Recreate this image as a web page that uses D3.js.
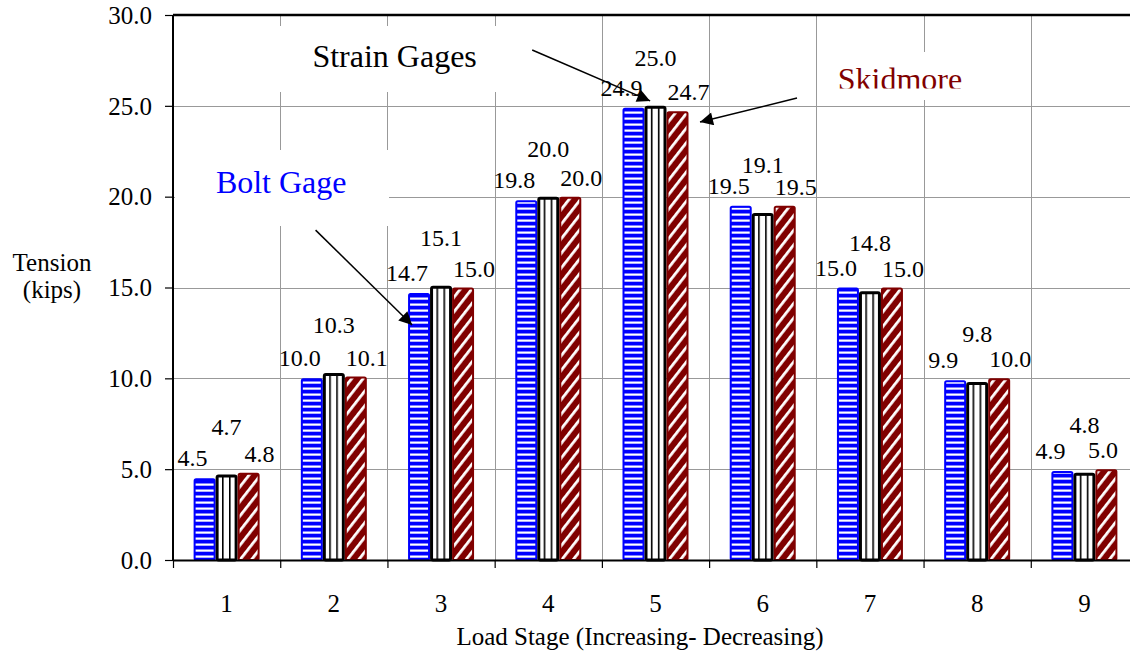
<!DOCTYPE html>
<html>
<head>
<meta charset="utf-8">
<script src="https://cdn.jsdelivr.net/npm/d3@7"></script>
<style>
  html, body { margin: 0; padding: 0; background: #fff; }
  svg { display: block; font-family: "Liberation Serif", "Times New Roman", serif; }
</style>
</head>
<body>
<svg id="chart" width="1130" height="656"></svg>
<script>
// Load stages and the three tension measurements (kips)
const stages = ["1", "2", "3", "4", "5", "6", "7", "8", "9"];
const boltGage    = [4.5, 10.0, 14.7, 19.8, 24.9, 19.5, 15.0, 9.9, 4.9];
const strainGages = [4.7, 10.3, 15.1, 20.0, 25.0, 19.1, 14.8, 9.8, 4.8];
const skidmore    = [4.8, 10.1, 15.0, 20.0, 24.7, 19.5, 15.0, 10.0, 5.0];
const seriesNames = ["Bolt Gage", "Strain Gages", "Skidmore"];
const yTicks = [0, 5, 10, 15, 20, 25, 30];

// Callouts: label anchor and arrow tail/tip in data units (stage index, kips)
const callouts = [
  { text: "Strain Gages", color: "#000000", at: [1.80, 27.15], tail: [3.85, 28.07], tip: [4.95, 25.27] },
  { text: "Skidmore",     color: "#800000", at: [6.70, 25.85], tail: [6.32, 25.43], tip: [5.415, 24.11] },
  { text: "Bolt Gage",    color: "#0000ff", at: [0.90, 20.20], tail: [1.83, 18.16], tip: [2.73, 12.94] }
];

const FONT = "Liberation Serif";
const svg = d3.select("#chart");
const W = 1130, H = 656;
const plot = { left: 173, right: 1138, top: 15, bottom: 560 };

svg.append("rect").attr("width", W).attr("height", H).attr("fill", "#fff");

// Fill patterns for the three series
const defs = svg.append("defs");
const pBlue = defs.append("pattern").attr("id", "pat-blue")
  .attr("patternUnits", "userSpaceOnUse").attr("width", 8).attr("height", 6);
pBlue.append("rect").attr("width", 8).attr("height", 6).attr("fill", "#0000ff");
pBlue.append("rect").attr("y", 3.5).attr("width", 8).attr("height", 2.2).attr("fill", "#fff");

const pBlack = defs.append("pattern").attr("id", "pat-black")
  .attr("patternUnits", "userSpaceOnUse").attr("width", 7).attr("height", 8);
pBlack.append("rect").attr("width", 7).attr("height", 8).attr("fill", "#fff");
pBlack.append("rect").attr("x", 0).attr("width", 1.6).attr("height", 8).attr("fill", "#000");

const pRed = defs.append("pattern").attr("id", "pat-red")
  .attr("patternUnits", "userSpaceOnUse").attr("width", 9).attr("height", 9)
  .attr("patternTransform", "rotate(38)");
pRed.append("rect").attr("width", 9).attr("height", 9).attr("fill", "#800000");
pRed.append("rect").attr("x", 0).attr("width", 2.8).attr("height", 9).attr("fill", "#fff");

defs.append("marker").attr("id", "arrowhead")
  .attr("viewBox", "0 0 10 10").attr("refX", 10).attr("refY", 5)
  .attr("markerUnits", "userSpaceOnUse")
  .attr("markerWidth", 18).attr("markerHeight", 13).attr("orient", "auto")
  .append("path").attr("d", "M0,0 L10,5 L0,10 Z").attr("fill", "#000");

// Scales
const y = d3.scaleLinear().domain([0, 30]).range([plot.bottom, plot.top]);
const x0 = d3.scaleBand().domain(stages).range([plot.left, plot.right]).padding(0);
const xLin = d3.scaleLinear().domain([0.5, stages.length + 0.5]).range([plot.left, plot.right]);
const bw = x0.bandwidth();
const groupW = 66;
const x1 = d3.scaleBand().domain(seriesNames).range([(bw - groupW) / 2, (bw + groupW) / 2]);

// Gridlines
const grid = svg.append("g").attr("stroke", "#999").attr("stroke-width", 1);
grid.selectAll("line.h").data(yTicks.filter(t => t > 0 && t < 30)).join("line")
  .attr("x1", plot.left).attr("x2", plot.right)
  .attr("y1", d => Math.round(y(d)) + 0.5).attr("y2", d => Math.round(y(d)) + 0.5);
const bounds = d3.range(1.5, stages.length + 0.5, 1);
grid.selectAll("line.v").data(bounds).join("line")
  .attr("x1", d => Math.round(xLin(d)) + 0.5).attr("x2", d => Math.round(xLin(d)) + 0.5)
  .attr("y1", plot.top).attr("y2", plot.bottom);

// Text boxes with white fill sit over the gridlines
const boxes = [
  { x: 272, y: 26, w: 228, h: 66 },
  { x: 820, y: 52, w: 170, h: 48 },
  { x: 175, y: 150, w: 214, h: 76 }
];
svg.append("g").selectAll("rect").data(boxes).join("rect")
  .attr("x", d => d.x).attr("y", d => d.y).attr("width", d => d.w).attr("height", d => d.h)
  .attr("fill", "#fff");

// Bars
const series = [
  { name: "Bolt Gage",    values: boltGage,    fill: "url(#pat-blue)",  stroke: "#0000ff", sw: 2, ldx: -12, ldy: -12 },
  { name: "Strain Gages", values: strainGages, fill: "url(#pat-black)", stroke: "#000000", sw: 3, ldx: 0,   ldy: -40 },
  { name: "Skidmore",     values: skidmore,    fill: "url(#pat-red)",   stroke: "#800000", sw: 2, ldx: 11,  ldy: -11 }
];

const groups = svg.append("g").selectAll("g").data(stages).join("g")
  .attr("transform", d => `translate(${x0(d)},0)`);

series.forEach(s => {
  groups.append("rect")
    .attr("x", (d, i) => x1(s.name) + s.sw / 2)
    .attr("y", (d, i) => y(s.values[i]) + s.sw / 2)
    .attr("width", x1.bandwidth() - s.sw)
    .attr("height", (d, i) => y(0) - y(s.values[i]) - s.sw / 2)
    .attr("rx", 1.5)
    .attr("fill", s.fill)
    .attr("stroke", s.stroke)
    .attr("stroke-width", s.sw);
});

// Value labels, kept inside the visible width
series.forEach(s => {
  groups.append("text")
    .attr("x", (d, i) => x1(s.name) + x1.bandwidth() / 2 + s.ldx)
    .attr("y", (d, i) => y(s.values[i]) + s.ldy)
    .attr("text-anchor", "middle")
    .attr("font-family", FONT)
    .attr("font-size", 24)
    .attr("fill", "#000")
    .text((d, i) => s.values[i].toFixed(1))
    .each(function (d) {
      const el = d3.select(this);
      const half = this.getComputedTextLength() / 2;
      const abs = x0(d) + (+el.attr("x"));
      if (abs + half > W - 12) el.attr("x", (W - 12 - half) - x0(d));
    });
});

// Axes
const yAxis = d3.axisLeft(y).tickValues(yTicks).tickFormat(d3.format(".1f")).tickSize(8).tickPadding(13);
const gy = svg.append("g").attr("transform", `translate(${plot.left},0)`).call(yAxis);
gy.select(".domain").attr("stroke-width", 2).attr("d", `M0,${plot.top}V${plot.bottom}`);
gy.selectAll(".tick line").attr("stroke-width", 1.2).attr("x2", -8).attr("x1", 1);
gy.selectAll(".tick text").attr("font-size", 25).attr("font-family", FONT).attr("fill", "#000").attr("dy", "0.33em");

const xTickAxis = d3.axisBottom(xLin).tickValues(d3.range(0.5, stages.length + 1, 1)).tickFormat("").tickSize(8).tickSizeOuter(0);
const gx = svg.append("g").attr("transform", `translate(0,${plot.bottom})`).call(xTickAxis);
gx.select(".domain").attr("stroke-width", 2);
gx.selectAll(".tick line").attr("stroke-width", 1.2);

const xLabelAxis = d3.axisBottom(x0).tickSize(0).tickPadding(0);
const gxl = svg.append("g").attr("transform", `translate(0,${plot.bottom})`).call(xLabelAxis);
gxl.select(".domain").remove();
gxl.selectAll(".tick text").attr("font-size", 25).attr("font-family", FONT).attr("fill", "#000")
  .attr("y", 52).attr("dy", 0);

// Top border of the plot area
svg.append("line").attr("x1", plot.left).attr("x2", plot.right)
  .attr("y1", plot.top).attr("y2", plot.top).attr("stroke", "#000").attr("stroke-width", 2.5);

// Axis titles
svg.append("text").attr("x", 640).attr("y", 645).attr("text-anchor", "middle")
  .attr("font-family", FONT).attr("font-size", 25).text("Load Stage (Increasing- Decreasing)");
const yt = svg.append("text").attr("text-anchor", "middle").attr("font-family", FONT).attr("font-size", 25);
yt.append("tspan").attr("x", 52).attr("y", 271).text("Tension");
yt.append("tspan").attr("x", 52).attr("y", 298).text("(kips)");

// Callout labels and arrows; the Skidmore box trims the bottom of its text
svg.append("defs").append("clipPath").attr("id", "clip-skid")
  .append("rect").attr("x", 800).attr("y", 40).attr("width", 220).attr("height", 48.5);

callouts.forEach(c => {
  const t = svg.append("text")
    .attr("x", xLin(c.at[0])).attr("y", y(c.at[1]))
    .attr("font-family", FONT)
    .attr("font-size", 32).attr("fill", c.color).text(c.text);
  if (c.text === "Skidmore") t.attr("clip-path", "url(#clip-skid)");
  svg.append("line")
    .attr("x1", xLin(c.tail[0])).attr("y1", y(c.tail[1]))
    .attr("x2", xLin(c.tip[0])).attr("y2", y(c.tip[1]))
    .attr("stroke", "#000").attr("stroke-width", 1.5)
    .attr("marker-end", "url(#arrowhead)");
});
</script>
</body>
</html>
